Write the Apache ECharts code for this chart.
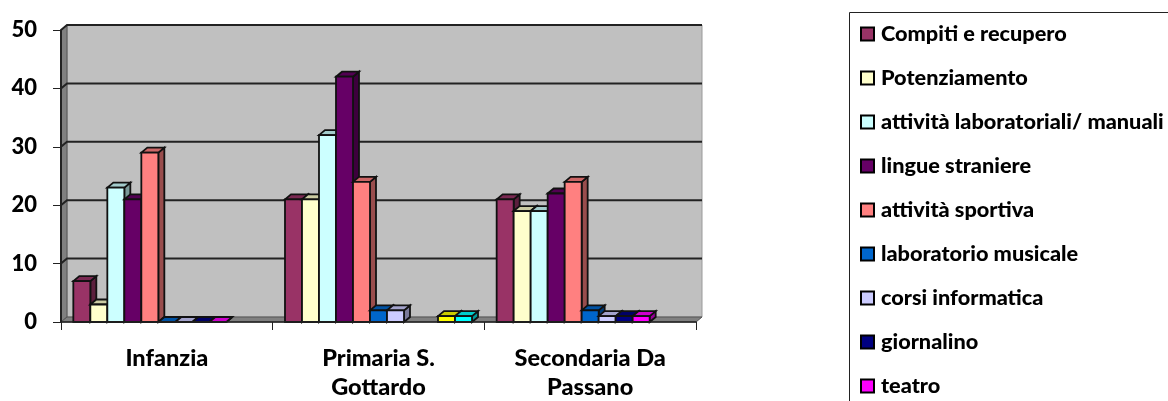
<!DOCTYPE html>
<html><head><meta charset="utf-8">
<style>html,body{margin:0;padding:0;background:#fff;overflow:hidden}#c{width:1168px;height:401px}</style>
<script src="https://cdn.jsdelivr.net/npm/echarts@6/dist/echarts.min.js"></script>
</head><body><div id="c"></div>
<script>
const categories = ['Infanzia', 'Primaria S.\nGottardo', 'Secondaria Da\nPassano'];
const yTicks = [0, 10, 20, 30, 40, 50];
const compiti = [7, 21, 21];
const potenziamento = [3, 21, 19];
const laboratoriali = [23, 32, 19];
const lingue = [21, 42, 22];
const sportiva = [29, 24, 24];
const musicale = [0, 2, 2];
const informatica = [0, 2, 1];
const giornalino = [0, null, 1];
const teatro = [0, null, 1];
const extraGiallo = [null, 1, null];
const extraCiano = [null, 1, null];

const seriesDefs = [
  ['Compiti e recupero', compiti, '#993366'],
  ['Potenziamento', potenziamento, '#FFFFCC'],
  ['attività laboratoriali/ manuali', laboratoriali, '#CCFFFF'],
  ['lingue straniere', lingue, '#660066'],
  ['attività sportiva', sportiva, '#FF8080'],
  ['laboratorio musicale', musicale, '#0066CC'],
  ['corsi informatica', informatica, '#CCCCFF'],
  ['giornalino', giornalino, '#000080'],
  ['teatro', teatro, '#FF00FF'],
  ['altro 1', extraGiallo, '#FFFF00'],
  ['altro 2', extraCiano, '#00FFFF']
];
const legendNames = seriesDefs.slice(0, 9).map(d => d[0]);

const DX = 6, DY = -5, EDGE = '#111';
const N = seriesDefs.length, SLOTS = N + 1.45;
function shade(hex, k) {
  const n = parseInt(hex.slice(1), 16);
  const c = s => Math.round(((n >> s) & 255) * k);
  return `rgb(${c(16)},${c(8)},${c(0)})`;
}
function barSeries(def, idx) {
  const [name, vals, color] = def;
  return {
    name, type: 'custom', z: 10 + idx, clip: false, silent: true,
    itemStyle: { color },
    encode: { x: 0, y: 1 },
    data: vals.map((v, i) => [i, v == null ? '-' : v]),
    renderItem(params, api) {
      const v = api.value(1);
      if (v == null || isNaN(v)) return null;
      const band = api.size([1, 0])[0], w = band / SLOTS;
      const c = api.coord([api.value(0), v]), base = api.coord([api.value(0), 0]);
      const x0 = c[0] - N * w / 2 + idx * w, x1 = x0 + w, yt = c[1], yb = base[1];
      const st = f => ({ fill: f, stroke: EDGE, lineWidth: 1.8 });
      const kids = [
        { type: 'polygon', shape: { points: [[x1, yt], [x1 + DX, yt + DY], [x1 + DX, yb + DY], [x1, yb]] }, style: st(shade(color, 0.6)) },
        { type: 'polygon', shape: { points: [[x0, yt], [x0 + DX, yt + DY], [x1 + DX, yt + DY], [x1, yt]] }, style: st(shade(color, 0.8)) }
      ];
      if (v > 0) kids.push({ type: 'rect', shape: { x: x0, y: yt, width: w, height: yb - yt }, style: st(color) });
      return { type: 'group', children: kids };
    }
  };
}
const wallSeries = {
  name: 'wall', type: 'custom', z: 1, clip: false, silent: true,
  encode: { x: 0, y: 1 },
  data: yTicks.map(t => [0, t]),
  renderItem(params, api) {
    const band = api.size([1, 0])[0];
    const y = api.coord([0, api.value(1)])[1];
    const xL = api.coord([0, 0])[0] - band / 2, xR = xL + band * categories.length;
    const kids = [];
    if (params.dataIndex === 0) {
      const yTop = api.coord([0, yTicks[yTicks.length - 1]])[1];
      kids.push(
        { type: 'polygon', shape: { points: [[xL + DX, yTop + DY], [xR + DX, yTop + DY], [xR + DX, y + DY], [xL + DX, y + DY]] }, style: { fill: '#C0C0C0', stroke: '#9a9a9a', lineWidth: 1 } },
        { type: 'polygon', shape: { points: [[xL, yTop], [xL + DX, yTop + DY], [xL + DX, y + DY], [xL, y]] }, style: { fill: '#808080', stroke: '#555', lineWidth: 1 } },
        { type: 'polygon', shape: { points: [[xL, y], [xL + DX, y + DY], [xR + DX, y + DY], [xR, y]] }, style: { fill: '#808080', stroke: '#555', lineWidth: 1 } }
      );
    } else {
      kids.push({ type: 'polyline', shape: { points: [[xL, y], [xL + DX, y + DY], [xR + DX, y + DY]] }, style: { fill: null, stroke: '#222', lineWidth: 2 } });
    }
    return { type: 'group', children: kids };
  }
};

const FONT = 'Lato';
const chart = echarts.init(document.getElementById('c'), null, { renderer: 'canvas' });
chart.setOption({
  animation: false,
  backgroundColor: '#fff',
  grid: { left: 61, top: 30, width: 635, height: 292, containLabel: false, outerBoundsMode: 'none' },
  xAxis: {
    type: 'category', data: categories,
    axisLine: { show: true, lineStyle: { color: '#222', width: 1.5 } },
    axisTick: { show: true, length: 8, alignWithLabel: false, lineStyle: { color: '#222', width: 1 } },
    axisLabel: { interval: 0, margin: 22, fontFamily: FONT, fontWeight: 900, fontSize: 23.5, lineHeight: 29, color: '#000' },
    z: 30
  },
  yAxis: {
    type: 'value', min: 0, max: 50, interval: 10,
    axisLine: { show: true, lineStyle: { color: '#222', width: 2 } },
    axisTick: { show: true, length: 8, lineStyle: { color: '#222', width: 1 } },
    axisLabel: { margin: 24, fontFamily: FONT, fontWeight: 900, fontSize: 22, color: '#000' },
    splitLine: { show: false },
    z: 30
  },
  legend: {
    show: true, orient: 'vertical', left: 860, top: 23, height: 500, data: legendNames,
    icon: 'rect', itemWidth: 13, itemHeight: 13, itemGap: 22, padding: 0,
    selectedMode: false,
    itemStyle: { borderColor: '#000', borderWidth: 2 },
    textStyle: { fontFamily: FONT, fontWeight: 900, fontSize: 21.7, color: '#000', lineHeight: 20, padding: [0, 0, 0, 2] }
  },
  graphic: [{
    type: 'rect', silent: true, z: -1,
    shape: { x: 849.5, y: 12.5, width: 400, height: 500 },
    style: { fill: '#fff', stroke: '#222', lineWidth: 1 }
  }],
  tooltip: { show: false },
  series: [wallSeries].concat(seriesDefs.map(barSeries))
});
</script></body></html>
